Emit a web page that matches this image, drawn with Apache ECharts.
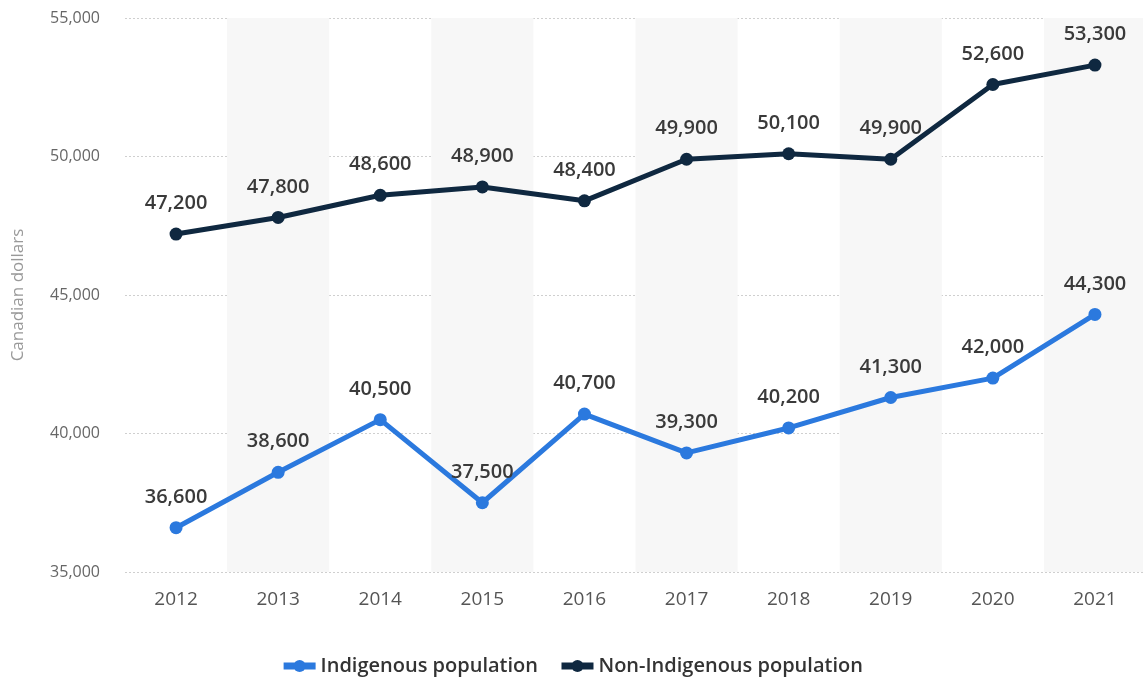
<!DOCTYPE html>
<html>
<head>
<meta charset="utf-8">
<script src="https://cdn.jsdelivr.net/npm/echarts@6/dist/echarts.min.js"></script>
<style>
  html, body { margin: 0; padding: 0; background: #fff; }
  #chart { width: 1143px; height: 679px; }
</style>
</head>
<body>
<div id="chart"></div>
<script>
// Median income by population group, Canada
const years = ['2012', '2013', '2014', '2015', '2016', '2017', '2018', '2019', '2020', '2021'];
const indigenous = [36600, 38600, 40500, 37500, 40700, 39300, 40200, 41300, 42000, 44300];
const nonIndigenous = [47200, 47800, 48600, 48900, 48400, 49900, 50100, 49900, 52600, 53300];
const yTicks = { min: 35000, max: 55000, interval: 5000 };

const FONT = '"Open Sans", "Noto Sans", sans-serif';
const BLUE = '#2b79de';
const NAVY = '#0f2840';

const chart = echarts.init(document.getElementById('chart'), null, { renderer: 'canvas' });

function lineSeries(name, data, color) {
  return {
    name: name,
    type: 'line',
    data: data,
    symbol: 'circle',
    symbolSize: 13,
    lineStyle: { width: 5, color: color },
    itemStyle: { color: color },
    label: {
      show: true,
      position: 'top',
      distance: 14,
      fontFamily: FONT,
      fontSize: 20,
      fontWeight: 600,
      color: '#3a3a3a',
      formatter: p => p.value.toLocaleString('en-US')
    },
    z: 3
  };
}

chart.setOption({
  animation: false,
  textStyle: { fontFamily: FONT },
  grid: { left: 125, right: -3, top: 18, bottom: 107, containLabel: false, outerBoundsMode: 'none' },
  legend: {
    bottom: -2,
    left: 'center',
    itemWidth: 32,
    itemHeight: 15,
    itemGap: 20,
    lineStyle: { width: 7 },
    textStyle: { fontFamily: FONT, fontSize: 20, fontWeight: 600, color: '#333' },
    data: ['Indigenous population', 'Non-Indigenous population']
  },
  xAxis: {
    type: 'category',
    data: years,
    boundaryGap: true,
    axisLine: { show: false },
    axisTick: { show: false },
    axisLabel: { fontFamily: FONT, fontSize: 19, color: '#555', margin: 18 },
    splitArea: { show: true, areaStyle: { color: ['rgba(255,255,255,0)', '#f7f7f7'] } }
  },
  yAxis: {
    type: 'value',
    min: yTicks.min,
    max: yTicks.max,
    interval: yTicks.interval,
    name: 'Canadian dollars',
    nameLocation: 'middle',
    nameGap: 98,
    nameTextStyle: { fontFamily: FONT, fontSize: 17, color: '#999' },
    axisLine: { show: false },
    axisTick: { show: false },
    axisLabel: {
      fontFamily: FONT, fontSize: 16, color: '#666', margin: 25,
      formatter: v => v.toLocaleString('en-US')
    },
    splitLine: { lineStyle: { color: '#cfcfcf', type: [2, 2], width: 1 } }
  },
  series: [
    lineSeries('Indigenous population', indigenous, BLUE),
    lineSeries('Non-Indigenous population', nonIndigenous, NAVY)
  ]
});
</script>
</body>
</html>
